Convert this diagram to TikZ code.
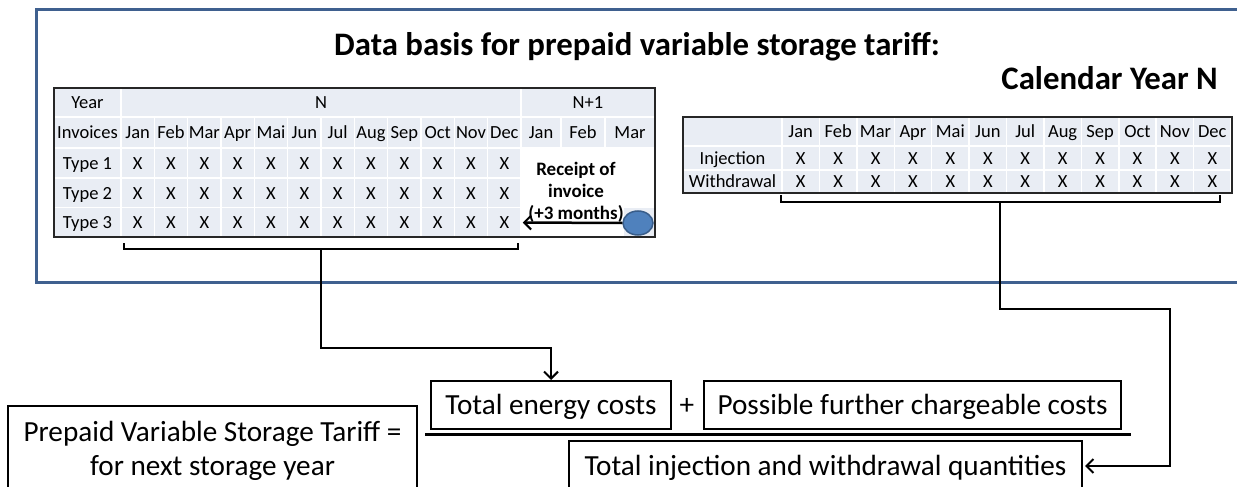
\documentclass[tikz,border=0pt]{standalone}
\usepackage{fontspec}
\setmainfont{Carlito}
\usetikzlibrary{arrows.meta,shapes.geometric,calc}
\definecolor{frameblue}{RGB}{63,96,143}
\definecolor{cellgrey}{RGB}{233,237,244}
\definecolor{dotblue}{RGB}{79,129,189}
\definecolor{dotedge}{RGB}{56,93,138}
\tikzset{
  cellbox/.style={fill=cellgrey, draw=white, line width=1.5pt, inner sep=0pt,
    text height=12pt, text depth=0pt, font=\fontsize{18.5}{20}\selectfont},
  tablebox/.style={draw=black!85, line width=2pt, inner sep=0pt},
  bigtext/.style={font=\fontsize{29.2}{34}\selectfont, inner sep=0pt},
  formbox/.style={draw=black, line width=2pt, inner sep=0pt,
    text height=18.8pt, text depth=0pt, font=\fontsize{29.2}{34}\selectfont},
  titletext/.style={font=\bfseries\fontsize{32.8}{36}\selectfont, inner sep=0pt},
  receipttext/.style={font=\bfseries\fontsize{19}{22}\selectfont, inner sep=0pt, align=center},
  conn/.style={line width=2.5pt, -{Straight Barb[length=7pt,width=14pt,line width=2pt]}},
  bracket/.style={line width=2.5pt},
  dot/.style={ellipse, fill=dotblue, draw=dotedge, line width=1.5pt, minimum width=30pt, minimum height=24pt, inner sep=0pt}
}
\begin{document}
\begin{tikzpicture}[x=1pt,y=-1pt]
\useasboundingbox (0,0) rectangle (1237,487);
% outer frame
\draw[frameblue, line width=3pt] (36,10) rectangle (1250,282);
% titles
\node[titletext, anchor=base] (title) at (637,56) {Data basis for prepaid variable storage tariff:};
\node[titletext, anchor=base east] (calyear) at (1218,89) {Calendar Year N};

% ---------- left table ----------
\node[cellbox, minimum width=67pt, minimum height=29pt] (L-year) at (87.5,102.5) {Year};
\node[cellbox, minimum width=400pt, minimum height=29pt] (L-N) at (321,102.5) {N};
\node[cellbox, minimum width=134pt, minimum height=29pt] (L-N1) at (588,102.5) {N+1};
\node[cellbox, minimum width=67pt, minimum height=31pt] (L-inv) at (87.5,132.5) {Invoices};
\foreach \r/\ry in {1/163,2/193,3/222.5}
  \node[cellbox, minimum width=67pt, minimum height=30pt] (L-t\r) at (87.5,\ry) {Type \r};
\foreach \m [count=\k] in {Jan,Feb,Mar,Apr,Mai,Jun,Jul,Aug,Sep,Oct,Nov,Dec} {
  \pgfmathsetmacro\cx{137.667+33.333*(\k-1)}
  \node[cellbox, minimum width=33.333pt, minimum height=31pt] (L-m\k) at (\cx,132.5) {\m};
  \foreach \r/\ry in {1/163,2/193,3/222.5}
    \node[cellbox, minimum width=33.333pt, minimum height=30pt] (L-\r-\k) at (\cx,\ry) {X};
}
\node[cellbox, minimum width=40pt, minimum height=31pt] (L-n1jan) at (541,132.5) {Jan};
\node[cellbox, minimum width=44pt, minimum height=31pt] (L-n1feb) at (583,132.5) {Feb};
\node[cellbox, minimum width=50pt, minimum height=31pt] (L-n1mar) at (630,132.5) {Mar};
\node[cellbox, minimum width=32pt, minimum height=30pt] (L-3-mar) at (639,222.5) {};
\node[tablebox, minimum width=601pt, minimum height=149pt] (Ltab) at (354.5,162.5) {};

% receipt annotation
\node[receipttext, anchor=base] (rcpt) at (576,219) {Receipt of\\invoice\\(+3 months)};
\node[dot] (dot) at (638,223) {};
\draw[conn, shorten >=1pt] (dot.west) -- (L-3-12.east);

% ---------- right table ----------
\node[cellbox, minimum width=99pt, minimum height=29pt] (R-head) at (732.5,131.5) {};
\node[cellbox, minimum width=99pt, minimum height=24pt] (R-inj) at (732.5,158) {Injection};
\node[cellbox, minimum width=99pt, minimum height=23pt] (R-wd) at (732.5,181.5) {Withdrawal};
\foreach \m [count=\k] in {Jan,Feb,Mar,Apr,Mai,Jun,Jul,Aug,Sep,Oct,Nov,Dec} {
  \pgfmathsetmacro\cx{800.71+37.417*(\k-1)}
  \node[cellbox, minimum width=37.417pt, minimum height=29pt] (R-m\k) at (\cx,131.5) {\m};
  \node[cellbox, minimum width=37.417pt, minimum height=24pt] (R-1-\k) at (\cx,158) {X};
  \node[cellbox, minimum width=37.417pt, minimum height=23pt] (R-2-\k) at (\cx,181.5) {X};
}
\node[tablebox, minimum width=549pt, minimum height=76pt] (Rtab) at (957.5,155) {};

% brackets
\coordinate (lb) at (321,249);
\coordinate (rb) at (1000,202);
\draw[bracket] (124,243) -- (124,249) -- (518,249) -- (518,243);
\draw[bracket] (781,195) -- (781,202) -- (1220,202) -- (1220,195);

% ---------- formula ----------
\node[draw=black, line width=2pt, minimum width=409pt, minimum height=86pt] (tariff) at (212.5,449) {};
\node[bigtext, anchor=base] (tariff1) at (212.5,441) {Prepaid Variable Storage Tariff =};
\node[bigtext, anchor=base] (tariff2) at (212.5,475) {for next storage year};
\node[formbox, minimum width=240pt, minimum height=48pt] (energy) at (551,405) {Total energy costs};
\node[formbox, draw=none, inner sep=0pt] (plus) at (687,405) {+};
\node[formbox, minimum width=417pt, minimum height=48pt] (further) at (912.5,405) {Possible further chargeable costs};
\draw[line width=3pt] (425,434) -- (1131,434);
\node[formbox, minimum width=513pt, minimum height=50pt] (inj) at (825.5,466) {Total injection and withdrawal quantities};

% connectors
\draw[conn] (lb) -- ++(0,99) -| (energy.north);
\draw[conn, shorten >=2pt] (rb) |- (1170,309) |- (inj.east);
\end{tikzpicture}
\end{document}
